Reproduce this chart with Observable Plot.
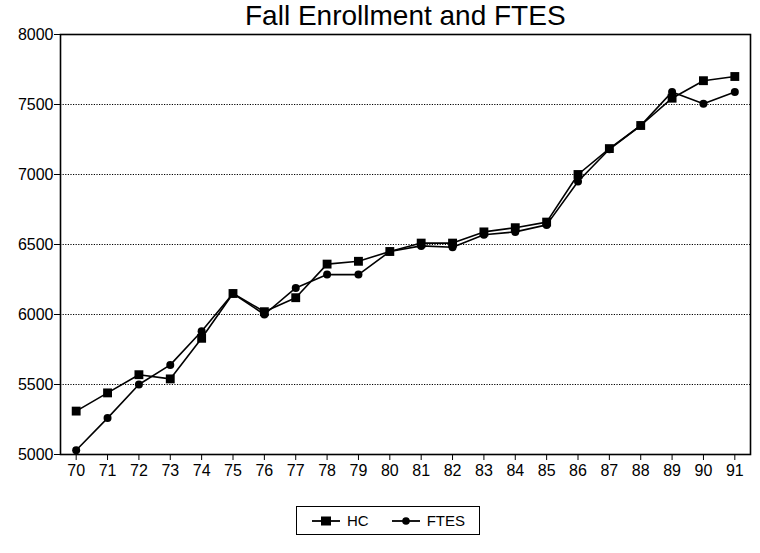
<!DOCTYPE html>
<html>
<head>
<meta charset="utf-8">
<script src="https://cdn.jsdelivr.net/npm/d3@7"></script>
<script src="https://cdn.jsdelivr.net/npm/@observablehq/plot@0.6"></script>
<style>
  body { margin: 0; background: #fff; font-family: "Liberation Sans", Arial, sans-serif; }
  #title { height: 26px; line-height: 32px; font-size: 28px; padding-left: 245px; white-space: nowrap; color: #000; overflow: visible; }
  #legendWrap { width: 760px; text-align: center; margin-top: 22px; }
  #legend { display: inline-flex; align-items: center; gap: 6px; border: 1.5px solid #000; padding: 5px 14px; margin-left: 16px; font-size: 15px; color: #000; }
  #legend .item { display: inline-flex; align-items: center; gap: 6px; }
  #legend .item + .item { margin-left: 16px; }
</style>
</head>
<body>
<div id="title">Fall Enrollment and FTES</div>
<div id="chart"></div>
<div id="legendWrap"><div id="legend"></div></div>
<script>
const years = [70, 71, 72, 73, 74, 75, 76, 77, 78, 79, 80, 81, 82, 83, 84, 85, 86, 87, 88, 89, 90, 91];
const hcValues = [5310, 5440, 5570, 5540, 5830, 6150, 6020, 6120, 6360, 6380, 6450, 6510, 6510, 6590, 6620, 6660, 7000, 7185, 7350, 7545, 7670, 7700];
const ftesValues = [5030, 5260, 5500, 5640, 5880, 6150, 6000, 6190, 6285, 6285, 6450, 6490, 6480, 6570, 6590, 6640, 6950, 7180, 7350, 7590, 7505, 7590];
const yTicks = [5000, 5500, 6000, 6500, 7000, 7500, 8000];
const gridValues = [5500, 6000, 6500, 7000, 7500];
const seriesNames = ["HC", "FTES"];

const hcData = years.map((y, i) => ({year: y, value: hcValues[i]}));
const ftesData = years.map((y, i) => ({year: y, value: ftesValues[i]}));

const chart = Plot.plot({
  width: 760,
  height: 458,
  marginTop: 8,
  marginLeft: 60,
  marginRight: 10,
  marginBottom: 30,
  x: {domain: [69.5, 91.5], label: null},
  y: {domain: [5000, 8000], label: null},
  style: {fontFamily: "'Liberation Sans', Arial, sans-serif", fontSize: "15px", color: "#000", background: "#fff"},
  marks: [
    Plot.ruleY(gridValues, {stroke: "#000", strokeWidth: 1, strokeDasharray: "1.2,1.4"}),
    Plot.frame({stroke: "#000", strokeWidth: 1.6}),
    Plot.axisX({ticks: years, tickFormat: d => String(d), tickSize: 6, tickPadding: 4, fontSize: 16, label: null}),
    Plot.axisY({ticks: yTicks, tickFormat: d3.format("d"), tickSize: 6, tickPadding: 1, fontSize: 16, label: null}),
    Plot.line(ftesData, {x: "year", y: "value", stroke: "#000", strokeWidth: 1.6}),
    Plot.line(hcData, {x: "year", y: "value", stroke: "#000", strokeWidth: 1.6}),
    Plot.dot(ftesData, {x: "year", y: "value", symbol: "circle", r: 4, fill: "#000"}),
    Plot.dot(hcData, {x: "year", y: "value", symbol: "square", r: 5, fill: "#000"})
  ]
});
document.getElementById("chart").appendChild(chart);

// legend
const legend = document.getElementById("legend");
seriesNames.forEach((name, i) => {
  const item = document.createElement("span");
  item.className = "item";
  const sw = d3.create("svg").attr("width", 30).attr("height", 14);
  sw.append("line").attr("x1", 1).attr("x2", 29).attr("y1", 7).attr("y2", 7).attr("stroke", "#000").attr("stroke-width", 1.8);
  if (i === 0) {
    sw.append("rect").attr("x", 10).attr("y", 2.5).attr("width", 10).attr("height", 9).attr("fill", "#000");
  } else {
    sw.append("circle").attr("cx", 15).attr("cy", 7).attr("r", 3.8).attr("fill", "#000");
  }
  item.appendChild(sw.node());
  const t = document.createElement("span");
  t.textContent = name;
  item.appendChild(t);
  legend.appendChild(item);
});
</script>
</body>
</html>
